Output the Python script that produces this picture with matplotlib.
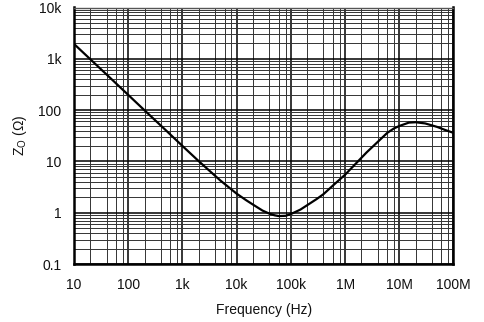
import matplotlib
matplotlib.use("Agg")
import matplotlib.pyplot as plt
from matplotlib.ticker import FixedLocator, LogLocator, NullFormatter

plt.rcParams['font.family'] = ['Liberation Sans', 'DejaVu Sans']

freq = [10, 20, 50, 100, 200, 500, 1e3, 2e3, 5e3, 1e4, 1.5e4, 2e4, 3e4, 4e4,
        5e4, 6e4, 8e4, 1e5, 1.5e5, 2e5, 3e5, 4e5, 6e5, 1e6, 1.6e6, 2.5e6, 4e6,
        6e6, 8e6, 1e7, 1.5e7, 2e7, 3e7, 5e7, 7e7, 1e8]
zo = [1950, 980, 395, 198, 99, 40, 20, 10.1, 4.25, 2.35, 1.75, 1.44, 1.1, 0.96,
      0.89, 0.86, 0.87, 0.94, 1.15, 1.4, 1.85, 2.3, 3.4, 5.5, 9.2, 15, 24,
      36, 44, 49, 57, 58, 55, 47, 41, 36]

xticks = [10, 100, 1e3, 1e4, 1e5, 1e6, 1e7, 1e8]
xticklabels = ['10', '100', '1k', '10k', '100k', '1M', '10M', '100M']
yticks = [0.1, 1, 10, 100, 1e3, 1e4]
yticklabels = ['0.1', '1', '10', '100', '1k', '10k']

fig = plt.figure(figsize=(4.84, 3.22), dpi=100)
ax = fig.add_axes([74/484, 1-264/322, (453.5-74)/484, (264-7.5)/322])
ax.set_xscale('log')
ax.set_yscale('log')
ax.set_xlim(10, 1e8)
ax.set_ylim(0.1, 1e4)

ax.xaxis.set_major_locator(FixedLocator(xticks))
ax.set_xticklabels(xticklabels)
ax.yaxis.set_major_locator(FixedLocator(yticks))
ax.set_yticklabels(yticklabels)
ax.xaxis.set_minor_locator(LogLocator(base=10, subs=[2, 4, 6, 8], numticks=20))
ax.yaxis.set_minor_locator(LogLocator(base=10, subs=[2, 3, 4, 5, 6, 7, 8, 9], numticks=20))
ax.xaxis.set_minor_formatter(NullFormatter())
ax.yaxis.set_minor_formatter(NullFormatter())

ax.grid(which='major', color='black', linewidth=1.1)
ax.grid(which='minor', color='#333333', linewidth=0.7)
ax.set_axisbelow(True)

ax.plot(freq, zo, color='black', linewidth=1.6, zorder=3)

ax.tick_params(which='both', length=0)
ax.tick_params(axis='x', pad=10, labelsize=10, labelcolor='#111111')
ax.tick_params(axis='y', pad=9, labelsize=10, labelcolor='#111111')

for s in ['left', 'bottom', 'right']:
    ax.spines[s].set_linewidth(1.8)
    ax.spines[s].set_color('black')
ax.spines['top'].set_linewidth(1.0)
ax.spines['top'].set_color('#555555')

ax.set_xlabel('Frequency (Hz)', fontsize=10, labelpad=8, color='#111111')
ax.set_ylabel(r'Z$_\mathregular{O}$ ($\mathregular{\Omega}$)', fontsize=10, labelpad=7, color='#111111')

fig.savefig('out.png', dpi=100)
